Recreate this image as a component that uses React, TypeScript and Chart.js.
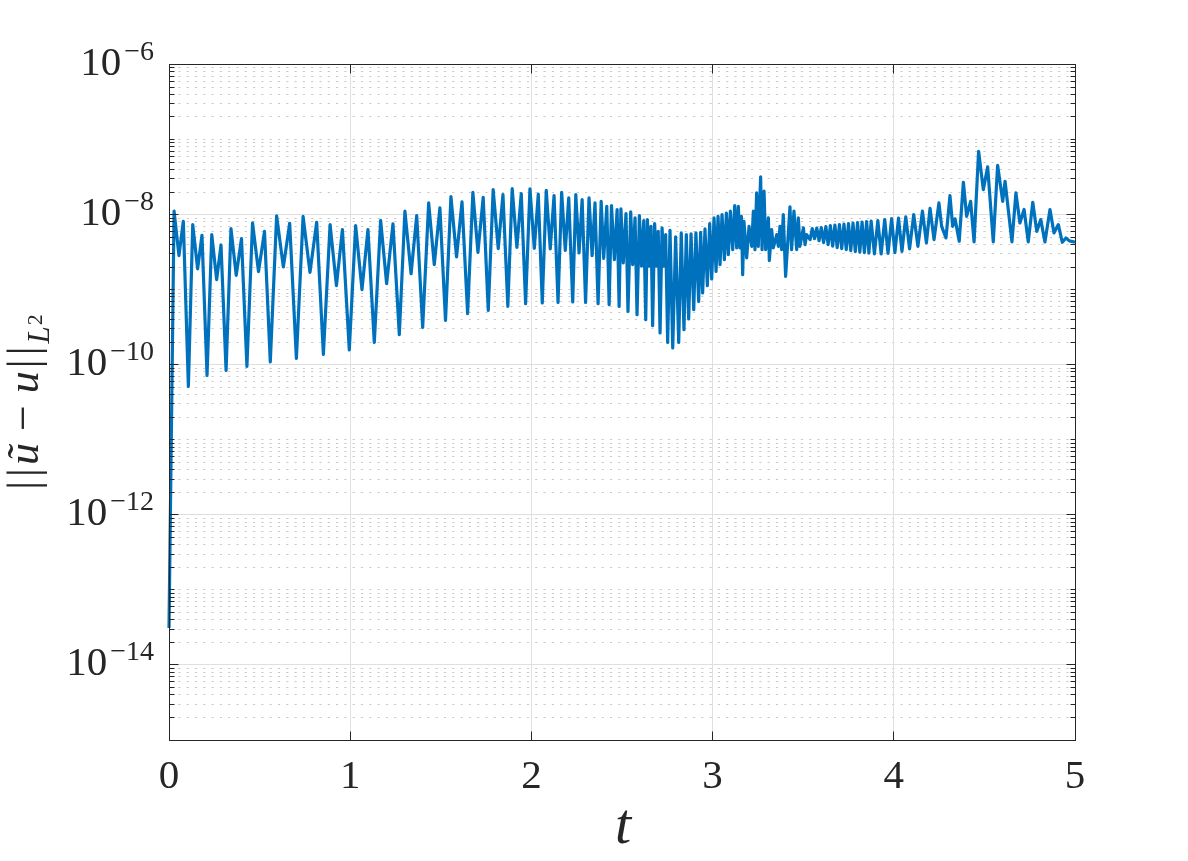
import React, { useEffect, useRef } from 'react';
import { Chart, registerables } from 'chart.js';

Chart.register(...registerables);

// ---- data (t, ||u~ - u||_L2), split into phases ----
const tPhase1 = [0, 0.028, 0.055, 0.079, 0.107, 0.131, 0.158, 0.182, 0.21, 0.236, 0.263, 0.287, 0.315, 0.342, 0.371, 0.4, 0.43, 0.461, 0.494, 0.527, 0.559, 0.594, 0.631, 0.666, 0.703, 0.74, 0.778, 0.815, 0.852, 0.889, 0.924, 0.957, 0.995, 1.03, 1.065, 1.098, 1.133, 1.168, 1.201, 1.236, 1.271];
const errPhase1 = [3.1e-14, 1.11e-8, 2.84e-9, 8.14e-9, 5.14e-11, 7.36e-9, 1.89e-9, 5.3e-9, 7.2e-11, 5.41e-9, 1.36e-9, 3.94e-9, 8.4e-11, 6.5e-9, 1.55e-9, 4.79e-9, 9.49e-11, 7.74e-9, 1.74e-9, 5.98e-9, 1.09e-10, 9.62e-9, 2.01e-9, 7.66e-9, 1.21e-10, 9.48e-9, 1.7e-9, 7.89e-9, 1.37e-10, 7.36e-9, 1.13e-9, 6.31e-9, 1.58e-10, 7.13e-9, 1.0e-9, 6.31e-9, 1.98e-10, 8.39e-9, 1.2e-9, 7.52e-9, 2.51e-10];

const tPhase2 = [1.302, 1.336, 1.367, 1.4, 1.433, 1.464, 1.495, 1.526, 1.556, 1.587, 1.617, 1.648, 1.677, 1.705, 1.734, 1.762, 1.789, 1.817, 1.843, 1.87, 1.894, 1.92, 1.944, 1.968, 1.992, 2.016, 2.038, 2.06, 2.082, 2.104, 2.125, 2.147, 2.167, 2.187, 2.206, 2.228, 2.245, 2.263, 2.28, 2.299, 2.318, 2.335, 2.351, 2.368, 2.385, 2.399, 2.416, 2.429, 2.442, 2.458, 2.473, 2.484];
const errPhase2 = [1.11e-8, 1.63e-9, 9.7e-9, 3.14e-10, 1.43e-8, 2.15e-9, 1.23e-8, 3.9e-10, 1.74e-8, 2.73e-9, 1.48e-8, 4.79e-10, 1.98e-8, 3.14e-9, 1.7e-8, 5.3e-10, 2.15e-8, 3.52e-9, 1.85e-8, 5.98e-10, 2.22e-8, 3.66e-9, 1.91e-8, 6.5e-10, 2.2e-8, 3.56e-9, 1.87e-8, 6.65e-10, 2.11e-8, 3.49e-9, 1.79e-8, 6.78e-10, 1.98e-8, 3.34e-9, 1.67e-8, 6.86e-10, 1.85e-8, 3.08e-9, 1.58e-8, 6.78e-10, 1.67e-8, 2.84e-9, 1.43e-8, 6.5e-10, 1.5e-8, 2.61e-9, 1.29e-8, 6.31e-10, 1.32e-8, 2.51e-9, 1.17e-8, 5.98e-10];

const tPhase3 = [2.494, 2.507, 2.522, 2.533, 2.548, 2.559, 2.572, 2.583, 2.596, 2.608, 2.62, 2.631, 2.64, 2.651, 2.66, 2.669, 2.68, 2.691, 2.7, 2.71, 2.721, 2.732, 2.741, 2.752, 2.765, 2.78, 2.796, 2.813, 2.827, 2.842, 2.855, 2.868, 2.881, 2.896, 2.908, 2.923, 2.934, 2.945, 2.958, 2.971, 2.984, 2.995, 3.008, 3.019, 3.03, 3.041, 3.052, 3.065, 3.076, 3.087, 3.098, 3.111, 3.122, 3.133, 3.142, 3.151, 3.159, 3.166, 3.173, 3.188, 3.201, 3.216, 3.225, 3.234, 3.243, 3.252, 3.265, 3.273, 3.284, 3.293, 3.308, 3.313, 3.326, 3.335, 3.354, 3.363, 3.372, 3.381, 3.39, 3.403, 3.427, 3.436, 3.449, 3.464, 3.473, 3.482, 3.501, 3.51, 3.519, 3.538];
const errPhase3 = [1.19e-8, 2.27e-9, 1.03e-8, 5.14e-10, 1.09e-8, 2.15e-9, 9.03e-9, 4.64e-10, 9.7e-9, 2.05e-9, 8.32e-9, 3.98e-10, 8.58e-9, 2.05e-9, 6.98e-9, 3.31e-10, 7.59e-9, 2.05e-9, 5.98e-9, 2.65e-10, 6.65e-9, 2.05e-9, 5.41e-9, 1.98e-10, 6.18e-9, 1.67e-10, 5.05e-9, 1.98e-10, 5.7e-9, 2.93e-10, 5.41e-9, 4.07e-10, 5.53e-9, 5.41e-10, 5.7e-9, 6.98e-10, 5.81e-9, 9.03e-10, 6.44e-9, 1.13e-9, 7.59e-9, 1.39e-9, 9.03e-9, 1.75e-9, 9.48e-9, 2.15e-9, 1.0e-8, 2.51e-9, 1.05e-8, 2.93e-9, 1.11e-8, 3.41e-9, 1.32e-8, 3.6e-9, 1.29e-8, 3.6e-9, 9.48e-9, 1.58e-9, 8.14e-9, 2.65e-9, 6.98e-9, 3.78e-9, 1.11e-8, 3.41e-9, 1.95e-8, 3.78e-9, 3.18e-8, 3.41e-9, 2.05e-8, 3.41e-9, 9.03e-9, 2.44e-9, 6.31e-9, 3.6e-9, 5.41e-9, 3.78e-9, 6.98e-9, 3.41e-9, 1.0e-8, 1.5e-9, 1.27e-8, 3.41e-9, 1.11e-8, 3.41e-9, 9.03e-9, 3.78e-9, 6.65e-9, 3.98e-9, 5.41e-9, 4.64e-9];

const tPhase4 = [3.55, 3.5625, 3.575, 3.5875, 3.6, 3.6125, 3.625, 3.6375, 3.65, 3.6625, 3.675, 3.6875, 3.7, 3.7125, 3.725, 3.7375, 3.75, 3.7625, 3.775, 3.7875, 3.8, 3.8125, 3.825, 3.8375, 3.85, 3.8625, 3.875];
const errPhase4 = [6.5e-9, 4.78e-9, 6.6e-9, 4.5e-9, 6.71e-9, 4.24e-9, 6.92e-9, 3.98e-9, 7.13e-9, 3.8e-9, 7.25e-9, 3.63e-9, 7.36e-9, 3.52e-9, 7.47e-9, 3.41e-9, 7.59e-9, 3.31e-9, 7.7e-9, 3.21e-9, 7.82e-9, 3.16e-9, 7.95e-9, 3.11e-9, 8.07e-9, 3.07e-9, 8.2e-9];

const tPhase5 = [3.893, 3.912, 3.93, 3.95, 3.968, 3.988, 4.006, 4.026, 4.045, 4.066, 4.087, 4.11, 4.133, 4.158, 4.18, 4.2, 4.222, 4.249, 4.264, 4.288, 4.31, 4.325, 4.338, 4.361, 4.384, 4.402, 4.424, 4.443, 4.468, 4.494, 4.518, 4.549, 4.573, 4.601, 4.614, 4.652, 4.674, 4.696, 4.719, 4.742, 4.767, 4.789, 4.811, 4.834, 4.862, 4.884, 4.908, 4.93, 4.95, 4.969, 5.0];
const errPhase5 = [3.0e-9, 8.32e-9, 2.99e-9, 8.6e-9, 3.05e-9, 8.85e-9, 3.11e-9, 9.0e-9, 3.24e-9, 9.31e-9, 3.49e-9, 1.0e-8, 3.78e-9, 1.11e-8, 4.2e-9, 1.21e-8, 4.64e-9, 1.43e-8, 6.98e-9, 4.89e-9, 1.79e-8, 6.98e-9, 8.77e-9, 4.41e-9, 2.7e-8, 9.48e-9, 1.5e-8, 4.33e-9, 6.98e-8, 2.15e-8, 4.33e-8, 4.33e-9, 4.54e-8, 1.5e-8, 2.78e-8, 4.33e-9, 1.95e-8, 7.74e-9, 1.17e-8, 4.33e-9, 1.46e-8, 5.98e-9, 8.58e-9, 4.33e-9, 1.17e-8, 5.7e-9, 7.36e-9, 4.28e-9, 4.89e-9, 4.47e-9, 4.28e-9];

// ---- axes ----
const xTicks = [0, 1, 2, 3, 4, 5];
const xMin = 0;
const xMax = 5;
const yMinExp = -15;
const yMaxExp = -6;
const yLabelExps = [-6, -8, -10, -12, -14];
const xTitle = 't';

const SERIF = "'Liberation Serif', 'Times New Roman', Tinos, serif";
const AXIS_COLOR = '#262626';
const LINE_COLOR = '#0072BD';

const crisp = (v: number) => Math.floor(v) + 0.5;

function minorValues(): number[] {
  const out: number[] = [];
  for (let e = yMinExp; e < yMaxExp; e++) {
    for (let m = 1; m <= 9; m++) {
      if (m === 1 && (e === yMinExp || yLabelExps.includes(e))) continue;
      out.push(m * Math.pow(10, e));
    }
  }
  return out;
}

const matlabAxes = {
  id: 'matlabAxes',
  beforeDatasetsDraw(chart: any) {
    const { ctx, chartArea: a, scales } = chart;
    const xs = scales.x;
    const ys = scales.y;
    ctx.save();
    ctx.lineWidth = 1;
    // minor dotted grid
    ctx.strokeStyle = '#cacaca';
    ctx.setLineDash([2.2, 6.1]);
    for (const v of minorValues()) {
      const p = crisp(ys.getPixelForValue(v));
      ctx.beginPath();
      ctx.moveTo(a.left + 1, p);
      ctx.lineTo(a.right, p);
      ctx.stroke();
    }
    ctx.setLineDash([]);
    // major grid
    ctx.strokeStyle = '#dfdfdf';
    for (const e of yLabelExps) {
      const p = crisp(ys.getPixelForValue(Math.pow(10, e)));
      ctx.beginPath();
      ctx.moveTo(a.left, p);
      ctx.lineTo(a.right, p);
      ctx.stroke();
    }
    for (const t of xTicks) {
      const p = crisp(xs.getPixelForValue(t));
      ctx.beginPath();
      ctx.moveTo(p, a.top);
      ctx.lineTo(p, a.bottom);
      ctx.stroke();
    }
    ctx.restore();
  },
  afterDatasetsDraw(chart: any) {
    const { ctx, chartArea: a, scales } = chart;
    const xs = scales.x;
    const ys = scales.y;
    const L = crisp(a.left);
    const R = crisp(a.right);
    const T = crisp(a.top);
    const B = crisp(a.bottom);
    ctx.save();
    ctx.strokeStyle = AXIS_COLOR;
    ctx.lineWidth = 1;
    ctx.strokeRect(L, T, R - L, B - T);
    // y ticks
    const tick = (p: number, len: number) => {
      ctx.beginPath();
      ctx.moveTo(L, p);
      ctx.lineTo(L + len, p);
      ctx.moveTo(R, p);
      ctx.lineTo(R - len, p);
      ctx.stroke();
    };
    for (const v of minorValues()) tick(crisp(ys.getPixelForValue(v)), 5);
    for (const e of yLabelExps) tick(crisp(ys.getPixelForValue(Math.pow(10, e))), 9);
    // x ticks
    for (const t of xTicks) {
      const p = crisp(xs.getPixelForValue(t));
      ctx.beginPath();
      ctx.moveTo(p, B);
      ctx.lineTo(p, B - 9);
      ctx.moveTo(p, T);
      ctx.lineTo(p, T + 9);
      ctx.stroke();
    }
    // y tick labels 10^{e}
    ctx.fillStyle = AXIS_COLOR;
    ctx.textBaseline = 'alphabetic';
    for (const e of yLabelExps) {
      const yp = ys.getPixelForValue(Math.pow(10, e));
      const sup = '\u2212' + String(Math.abs(e));
      ctx.font = `28px ${SERIF}`;
      const sw = ctx.measureText(sup).width;
      ctx.textAlign = 'right';
      ctx.fillText(sup, 154, yp - 5);
      ctx.font = `41px ${SERIF}`;
      ctx.fillText('10', 154 - sw - 3, yp + 10.5);
    }
    // x tick labels
    ctx.font = `41px ${SERIF}`;
    ctx.textAlign = 'center';
    for (const t of xTicks) {
      ctx.fillText(String(t), xs.getPixelForValue(t), 788);
    }
    // x title
    ctx.font = `italic 58px ${SERIF}`;
    ctx.fillText(xTitle, (a.left + a.right) / 2 + 1, 843);
    // y title  ||ũ − u||_{L^2}
    const pieces = [
      { t: '|', f: `44px ${SERIF}`, dy: 0, gap: 4 },
      { t: '|', f: `44px ${SERIF}`, dy: 0, gap: 3 },
      { t: '\u0169', f: `italic 44px ${SERIF}`, dy: 0, gap: 12 },
      { t: '\u2212', f: `46px ${SERIF}`, dy: 0, gap: 12 },
      { t: 'u', f: `italic 44px ${SERIF}`, dy: 0, gap: 3 },
      { t: '|', f: `44px ${SERIF}`, dy: 0, gap: 4 },
      { t: '|', f: `44px ${SERIF}`, dy: 0, gap: 3 },
      { t: 'L', f: `italic 31px ${SERIF}`, dy: 11, gap: 1 },
      { t: '2', f: `22px ${SERIF}`, dy: 4, gap: 0 },
    ];
    ctx.textAlign = 'left';
    let total = 0;
    const widths: number[] = [];
    for (const pc of pieces) {
      ctx.font = pc.f;
      const w = ctx.measureText(pc.t).width;
      widths.push(w);
      total += w + pc.gap;
    }
    ctx.translate(38, 402);
    ctx.rotate(-Math.PI / 2);
    let x = -total / 2;
    pieces.forEach((pc, i) => {
      ctx.font = pc.f;
      ctx.fillText(pc.t, x, pc.dy);
      x += widths[i] + pc.gap;
    });
    ctx.restore();
  },
};

function buildPoints() {
  const ts = [...tPhase1, ...tPhase2, ...tPhase3, ...tPhase4, ...tPhase5];
  const es = [...errPhase1, ...errPhase2, ...errPhase3, ...errPhase4, ...errPhase5];
  return ts.map((t, i) => ({ x: t, y: es[i] }));
}

export default function App() {
  const ref = useRef<HTMLCanvasElement>(null);
  useEffect(() => {
    const canvas = ref.current;
    if (!canvas) return;
    const chart = new Chart(canvas, {
      type: 'line',
      data: {
        datasets: [
          {
            data: buildPoints(),
            borderColor: LINE_COLOR,
            borderWidth: 3.2,
            pointRadius: 0,
            tension: 0,
            fill: false,
            borderJoinStyle: 'round',
            clip: { left: 3, right: 0, top: 0, bottom: 0 },
          } as any,
        ],
      },
      options: {
        responsive: false,
        animation: false,
        devicePixelRatio: 1,
        layout: { padding: { left: 169, top: 64.5, right: 113, bottom: 121 } },
        plugins: { legend: { display: false }, tooltip: { enabled: false } },
        scales: {
          x: { type: 'linear', min: xMin, max: xMax, display: false },
          y: { type: 'logarithmic', min: Math.pow(10, yMinExp), max: Math.pow(10, yMaxExp), display: false },
        },
      } as any,
      plugins: [matlabAxes],
    });
    return () => chart.destroy();
  }, []);
  return (
    <div style={{ position: 'absolute', left: 0, top: 0, width: 1188, height: 861, background: '#fff' }}>
      <canvas ref={ref} width={1188} height={861} style={{ display: 'block', width: 1188, height: 861 }} />
    </div>
  );
}
